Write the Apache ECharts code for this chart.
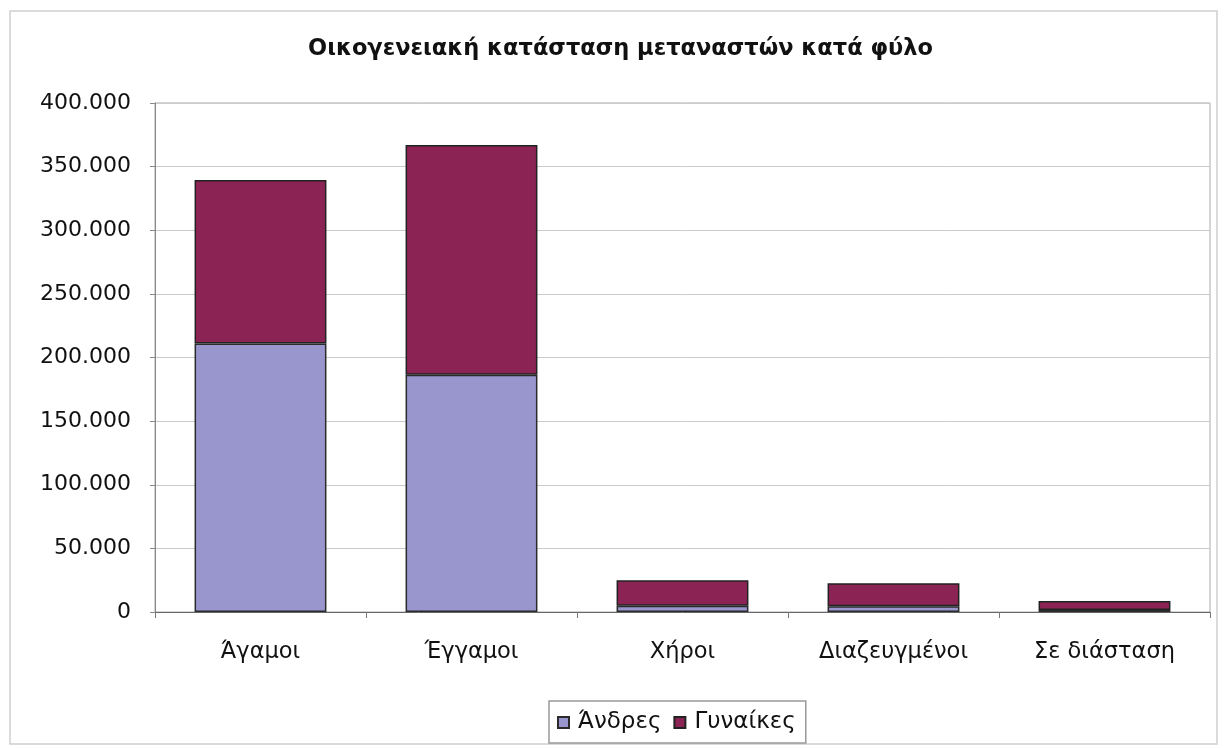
<!DOCTYPE html>
<html>
<head>
<meta charset="utf-8">
<script src="https://cdn.jsdelivr.net/npm/echarts@6/dist/echarts.min.js"></script>
<style>
html,body{margin:0;padding:0;background:#fff;}
#main{width:1229px;height:748px;}
</style>
</head>
<body>
<div id="main"></div>
<script>
//数据
var categories=['Άγαμοι','Έγγαμοι','Χήροι','Διαζευγμένοι','Σε διάσταση'];
var andres=[211000,186500,5000,4500,1500];
var gynaikes=[128500,180500,20000,18000,7200];
var seriesNames=['Άνδρες','Γυναίκες'];
var titleText='Οικογενειακή κατάσταση μεταναστών κατά φύλο';

var fnt='"DejaVu Sans", Arial, sans-serif';

//千位分隔用点
function fmt(v){
    return String(v).replace(/\B(?=(\d{3})+(?!\d))/g,'.');
}

var myChart=echarts.init(document.getElementById('main'));
var option={
    backgroundColor:'#fff',
    animation:false,
    title:{
        text:titleText,
        left:303,
        top:33,
        textStyle:{fontFamily:fnt,fontSize:22.5,fontWeight:'bold',color:'#111'}
    },
    graphic:[{
        type:'rect',
        shape:{x:10,y:11,width:1207,height:733},
        style:{fill:'none',stroke:'#cfcfcf',lineWidth:1.5},
        silent:true
    }],
    legend:{
        data:seriesNames,
        left:549,
        top:701,
        itemWidth:11,
        itemHeight:11,
        itemGap:12,
        padding:[10,10,9,8],
        borderColor:'#999',
        borderWidth:1.5,
        icon:'rect',
        textStyle:{fontFamily:fnt,fontSize:23,color:'#111',padding:[0,0,0,4]}
    },
    grid:{
        left:155,
        right:19,
        top:103,
        bottom:136,
        show:true,
        borderColor:'#aaa',
        borderWidth:1
    },
    xAxis:{
        type:'category',
        data:categories,
        axisLine:{lineStyle:{color:'#666'}},
        axisTick:{show:true,length:6,lineStyle:{color:'#777'}},
        axisLabel:{fontFamily:fnt,fontSize:22.5,color:'#111',margin:29}
    },
    yAxis:{
        type:'value',
        min:0,
        max:400000,
        interval:50000,
        axisLine:{show:true,lineStyle:{color:'#888'}},
        axisTick:{show:true,length:5,lineStyle:{color:'#888'}},
        splitLine:{lineStyle:{color:'#cacaca'}},
        axisLabel:{fontFamily:fnt,fontSize:22,color:'#111',margin:24,formatter:fmt}
    },
    series:[{
        name:seriesNames[0],
        type:'bar',
        stack:'total',
        barWidth:'62.5%',
        data:andres,
        itemStyle:{color:'#9896cc',borderColor:'#2a2a2a',borderWidth:1.5}
    },{
        name:seriesNames[1],
        type:'bar',
        stack:'total',
        barWidth:'62.5%',
        data:gynaikes,
        itemStyle:{color:'#8b2454',borderColor:'#222',borderWidth:1.5}
    }]
};
myChart.setOption(option);
</script>
</body>
</html>
